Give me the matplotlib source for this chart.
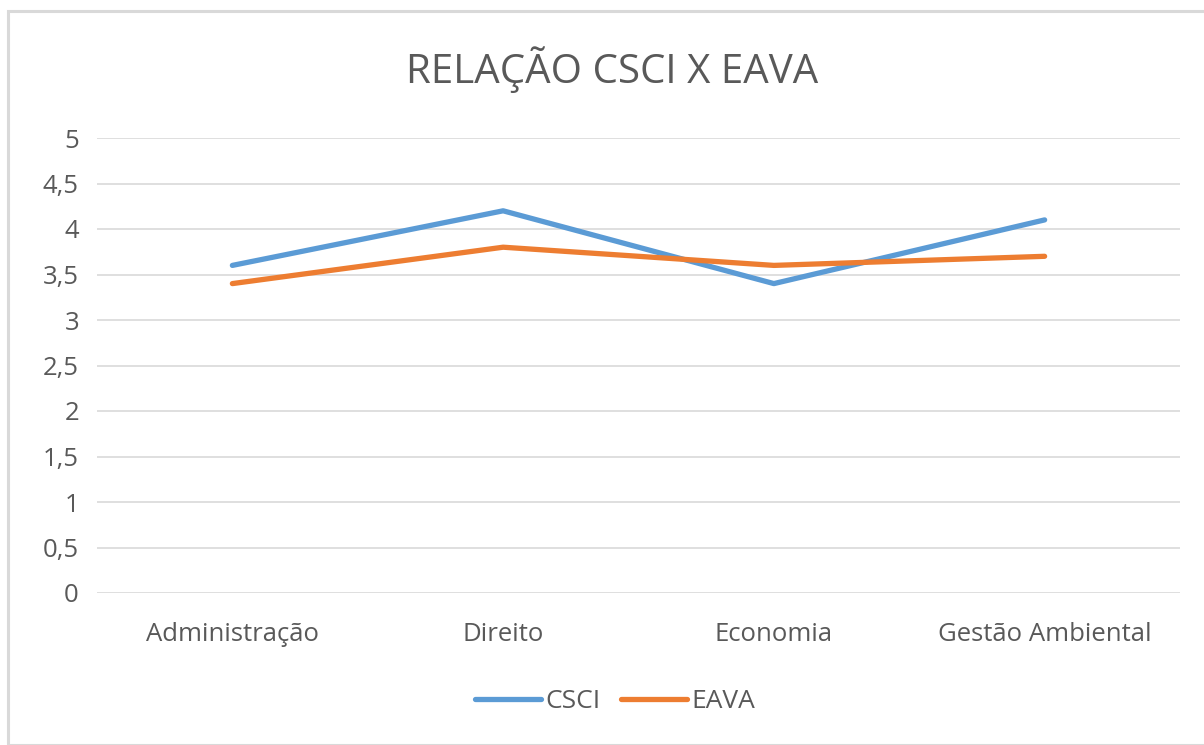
import matplotlib
matplotlib.use("Agg")
import matplotlib.pyplot as plt
from matplotlib.patches import Rectangle
from matplotlib.ticker import FuncFormatter

categories = ["Administração", "Direito", "Economia", "Gestão Ambiental"]
csci = [3.6, 4.2, 3.4, 4.1]
eava = [3.4, 3.8, 3.6, 3.7]
yticks = [0, 0.5, 1, 1.5, 2, 2.5, 3, 3.5, 4, 4.5, 5]

plt.rcParams['font.family'] = ['Open Sans', 'DejaVu Sans']
txt = '#595959'

fig = plt.figure(figsize=(12.04, 7.45), dpi=100)
W, H = 1204, 745
fig.patches.append(Rectangle((8/W, 0), 1.2, (H-11)/H, transform=fig.transFigure,
                             fill=False, edgecolor='#d9d9d9', linewidth=2.2))
ax = fig.add_axes([97/W, 1-593/H, (1180-97)/W, (593-138)/H])
x = list(range(len(categories)))
ax.plot(x, csci, color='#5b9bd5', lw=3.8, solid_capstyle='round', label='CSCI')
ax.plot(x, eava, color='#ed7d31', lw=3.8, solid_capstyle='round', label='EAVA')
ax.set_xlim(-0.5, len(categories)-0.5)
ax.set_ylim(0, 5)
ax.set_yticks(yticks)
ax.yaxis.set_major_formatter(FuncFormatter(lambda v, p: ('%g' % v).replace('.', ',')))
ax.set_xticks(x)
ax.set_xticklabels(categories)
ax.grid(axis='y', color='#d9d9d9', lw=1.2)
ax.set_axisbelow(True)
for s in ax.spines.values():
    s.set_visible(False)
ax.tick_params(length=0, labelsize=18.5, colors=txt)
ax.tick_params(axis='y', pad=13)
ax.tick_params(axis='x', pad=21)
fig.text(612/W, 1-70/H, 'RELAÇÃO CSCI X EAVA', ha='center', va='center', fontsize=29, color=txt)
leg = fig.legend(loc='center', bbox_to_anchor=(615/W, 1-702/H), ncol=2, frameon=False,
                 fontsize=19, labelcolor=txt, handlelength=2.5, handletextpad=0.15,
                 columnspacing=0.8)
fig.savefig('out.png', dpi=100)
